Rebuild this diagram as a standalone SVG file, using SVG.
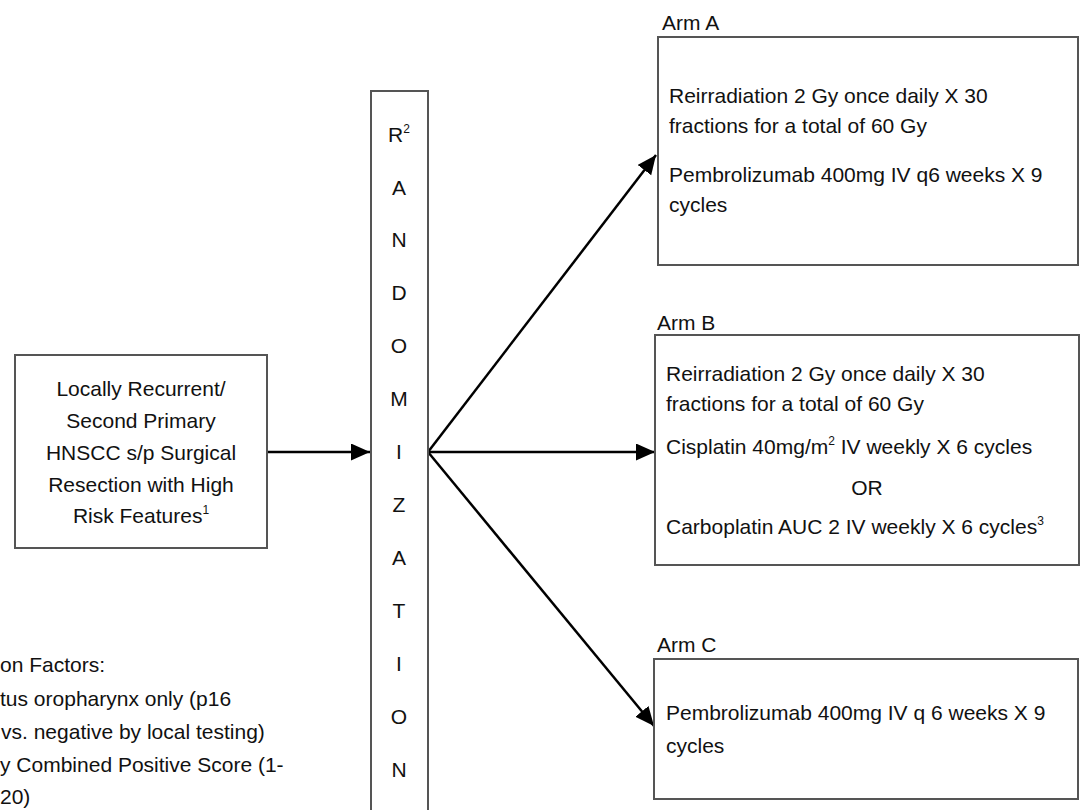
<svg xmlns="http://www.w3.org/2000/svg" width="1083" height="810" viewBox="0 0 1083 810">
<defs>
<style>
.t{font-family:"Liberation Sans",Arial,sans-serif;font-size:21px;fill:#111;}
.c{text-anchor:middle;}
.sup{font-size:12px;}
.box{fill:#fff;stroke:#555;stroke-width:2;}
.conn{stroke:#000;stroke-width:2.5;fill:none;marker-end:url(#ah);}
</style>
<marker id="ah" markerUnits="userSpaceOnUse" markerWidth="20" markerHeight="18" refX="19" refY="8.5" orient="auto">
<path d="M0,0 L19,8.5 L0,17 z" fill="#000"/>
</marker>
</defs>
<rect width="1083" height="810" fill="#fff"/>

<g id="connectors">
<line class="conn" x1="267" y1="452" x2="370" y2="452"/>
<line class="conn" x1="428" y1="452" x2="656" y2="155"/>
<line class="conn" x1="428" y1="452" x2="655" y2="452"/>
<line class="conn" x1="428" y1="452" x2="654" y2="726"/>
</g>

<g id="entry">
<rect class="box" x="15" y="355" width="252" height="193"/>
<text class="t c" x="141" y="396">Locally Recurrent/</text>
<text class="t c" x="141" y="428">Second Primary</text>
<text class="t c" x="141" y="460">HNSCC s/p Surgical</text>
<text class="t c" x="141" y="492">Resection with High</text>
<text class="t c" x="141" y="523">Risk Features<tspan class="sup" dy="-9">1</tspan></text>
</g>

<g id="randomization">
<rect class="box" x="371" y="91" width="57" height="740"/>
<text class="t c" x="399" y="142">R<tspan class="sup" dy="-9">2</tspan></text>
<text class="t c" x="399" y="195">A</text>
<text class="t c" x="399" y="247">N</text>
<text class="t c" x="399" y="300">D</text>
<text class="t c" x="399" y="353">O</text>
<text class="t c" x="399" y="406">M</text>
<text class="t c" x="399" y="459">I</text>
<text class="t c" x="399" y="512">Z</text>
<text class="t c" x="399" y="565">A</text>
<text class="t c" x="399" y="618">T</text>
<text class="t c" x="399" y="671">I</text>
<text class="t c" x="399" y="724">O</text>
<text class="t c" x="399" y="777">N</text>
</g>

<g id="armA">
<text class="t" x="662" y="30">Arm A</text>
<rect class="box" x="658" y="37" width="420" height="228"/>
<text class="t" x="669" y="103">Reirradiation 2 Gy once daily X 30</text>
<text class="t" x="669" y="133">fractions for a total of 60 Gy</text>
<text class="t" x="669" y="182">Pembrolizumab 400mg IV q6 weeks X 9</text>
<text class="t" x="669" y="212">cycles</text>
</g>

<g id="armB">
<text class="t" x="657" y="330">Arm B</text>
<rect class="box" x="655" y="335" width="424" height="230"/>
<text class="t" x="666" y="381">Reirradiation 2 Gy once daily X 30</text>
<text class="t" x="666" y="411">fractions for a total of 60 Gy</text>
<text class="t" x="666" y="454">Cisplatin 40mg/m<tspan class="sup" dy="-9">2</tspan><tspan dy="9"> IV weekly X 6 cycles</tspan></text>
<text class="t c" x="867" y="495">OR</text>
<text class="t" x="666" y="534">Carboplatin AUC 2 IV weekly X 6 cycles<tspan class="sup" dy="-9">3</tspan></text>
</g>

<g id="armC">
<text class="t" x="657" y="652">Arm C</text>
<rect class="box" x="654" y="659" width="424" height="140"/>
<text class="t" x="666" y="720">Pembrolizumab 400mg IV q 6 weeks X 9</text>
<text class="t" x="666" y="753">cycles</text>
</g>

<g id="stratification">
<text class="t" x="0" y="672">on Factors:</text>
<text class="t" x="0" y="706">tus oropharynx only (p16</text>
<text class="t" x="1" y="739">vs. negative by local testing)</text>
<text class="t" x="0" y="772">y Combined Positive Score (1-</text>
<text class="t" x="0" y="804">20)</text>
</g>
</svg>
